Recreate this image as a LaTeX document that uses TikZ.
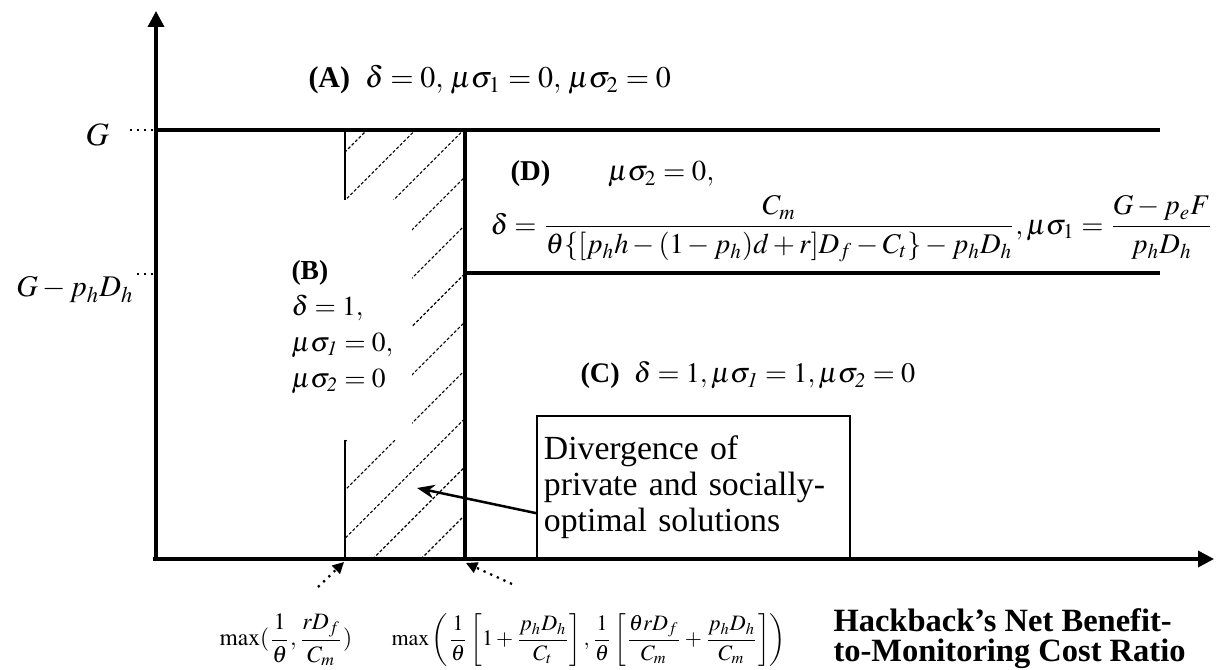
\documentclass[tikz,border=0pt]{standalone}
\usepackage{amsmath}
\usepackage{mathptmx}
\usepackage{fontspec}
\setmainfont{Liberation Serif}
\usetikzlibrary{arrows.meta,positioning}

\begin{document}
\begin{tikzpicture}[
    x=0.4pt, y=-0.4pt,
    axis/.style={line width=1.4pt, -{Triangle[length=6.4pt,width=6.4pt]}},
    border/.style={line width=1.3pt},
    thinline/.style={line width=0.5pt},
    hatch/.style={line width=0.45pt, dash pattern=on 1.2pt off 0.8pt},
    tickline/.style={line width=0.8pt, dotted},
    region/.style={font=\fontsize{12}{14}\selectfont, inner sep=0pt, anchor=base west},
    pointer/.style={line width=0.9pt, dotted, -{Triangle[length=4.5pt,width=4.5pt]}},
    callout/.style={draw, line width=0.7pt, align=left, text width=119.6pt, inner xsep=2.8pt,
        minimum width=125.2pt, minimum height=56.8pt, font=\fontsize{13.5}{14.4}\selectfont},
    bound/.style={font=\fontsize{9.4}{11}\selectfont, inner sep=0pt}
]
    \useasboundingbox (0,0) rectangle (1217,670);

    % Axes
    \coordinate (origin) at (156,559);
    \draw[axis] (153,559) -- (1214,559);
    \draw[axis] (origin) -- (156,11);

    % Boundaries
    \draw[border] (origin |- 0,130) -- (1160,130);
    \draw[border] (465,130) -- (465,559);
    \draw[border] (465,273) -- (1160,273);
    \draw[thinline] (345,130) -- (345,200);
    \draw[thinline] (345,440) -- (345,559);

    % Hatched divergence area
    \begin{scope}
        \clip (345,130) -- (465,130) -- (465,559) -- (345,559) -- (345,440)
            -- (412,440) -- (412,200) -- (345,200) -- cycle;
        \foreach \i in {0,...,10}
            \draw[hatch] ({497+48.3*\i-559},559) -- ({497+48.3*\i-130},130);
    \end{scope}

    % Tick marks on the vertical axis
    \draw[tickline] (130,130) -- (154,130);
    \draw[tickline] (137,274) -- (154,274);
    \node[region, font=\fontsize{13}{14}\selectfont] (glabel) at (85,146) {$G$};
    \node[region, anchor=base east] (gplabel) at (134,297) {$G-p_hD_h$};

    % Regions
    \node[region] (rega) at (308,88) {\textbf{(A)}\enspace $\delta=0,\,\mu\sigma_1=0,\,\mu\sigma_2=0$};
    \node[region, font=\fontsize{11.5}{14}\selectfont] (regd) at (510,181) {\textbf{(D)}\qquad$\mu\sigma_2=0,$};
    \node[region, anchor=west, font=\fontsize{11.4}{14}\selectfont] (regdformula) at (490,229)
        {$\delta=\dfrac{C_m}{\theta\{[p_hh-(1-p_h)d+r]D_f-C_t\}-p_hD_h},\mu\sigma_1=\dfrac{G-p_eF}{p_hD_h}$};
    \node[region, anchor=north west, align=left, font=\fontsize{11}{14.4}\selectfont] (regb) at (291,260) {%
        \textbf{(B)}\\
        $\delta=1,$\\
        $\mu\sigma_{\mathit{1}}=0,$\\
        $\mu\sigma_{\mathit{2}}=0$};
    \node[region, font=\fontsize{11.3}{14}\selectfont] (regc) at (580,383)
        {\textbf{(C)}\enspace$\delta=1,\mu\sigma_{\mathit{1}}=1,\mu\sigma_{\mathit{2}}=0$};

    % Callout
    \node[callout, anchor=south west] (divbox) at (536,559) {%
        Divergence of\\
        private and socially-\\
        optimal solutions};
    \coordinate (divtip) at (417,488);
    \draw[line width=1pt, -{Stealth[length=7pt,width=5.5pt]}] ([yshift=-10.4pt]divbox.west) -- (divtip);

    % Thresholds on the horizontal axis
    \node[bound] (lowmax) at (286,640) {$\max(\dfrac{1}{\theta},\dfrac{rD_f}{C_m})$};
    \node[bound, anchor=west, font=\fontsize{8.8}{10}\selectfont] (highmax) at (391,640) {$\max\left(\dfrac{1}{\theta}\left[1+\dfrac{p_hD_h}{C_t}\right],\dfrac{1}{\theta}\left[\dfrac{\theta rD_f}{C_m}+\dfrac{p_hD_h}{C_m}\right]\right)$};
    \coordinate (lowend) at (344,562);
    \coordinate (lowtail) at (318,587);
    \coordinate (highend) at (466,563);
    \coordinate (hightail) at (512,584);
    \draw[pointer] (lowtail) -- (lowend);
    \draw[pointer] (hightail) -- (highend);

    % Axis title
    \node[region, anchor=north west, align=left, font=\fontsize{13}{12}\selectfont\bfseries] (xtitle) at (833,608) {%
        Hackback's Net Benefit-\\
        to-Monitoring Cost Ratio};
\end{tikzpicture}
\end{document}
